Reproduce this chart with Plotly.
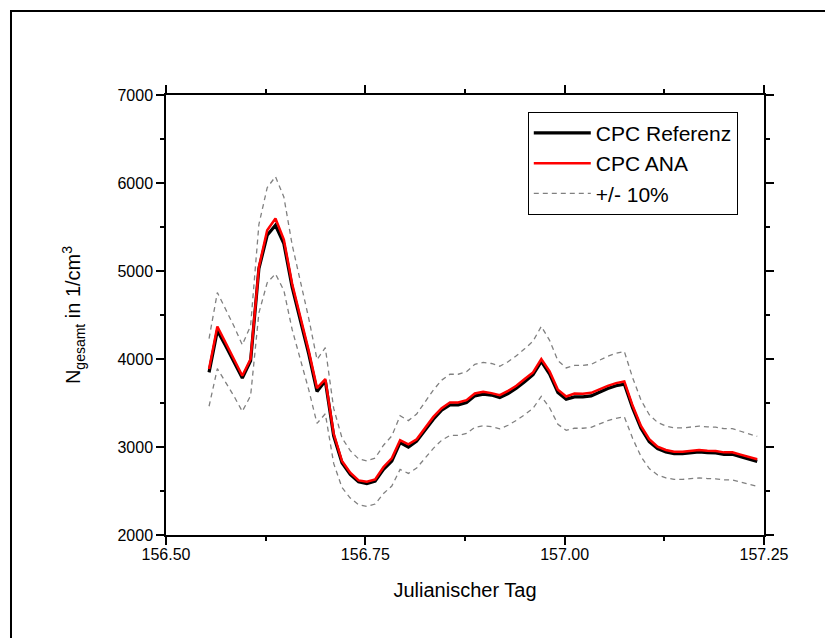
import plotly.graph_objects as go

# Julian day (15-minute steps)
julian_day = [
    156.5540, 156.5644, 156.5748, 156.5853, 156.5957, 156.6061, 156.6165, 156.6269,
    156.6373, 156.6478, 156.6582, 156.6686, 156.6790, 156.6894, 156.6998, 156.7103,
    156.7207, 156.7311, 156.7415, 156.7519, 156.7623, 156.7728, 156.7832, 156.7936,
    156.8040, 156.8144, 156.8248, 156.8353, 156.8457, 156.8561, 156.8665, 156.8769,
    156.8873, 156.8978, 156.9082, 156.9186, 156.9290, 156.9394, 156.9498, 156.9603,
    156.9707, 156.9811, 156.9915, 157.0019, 157.0123, 157.0228, 157.0332, 157.0436,
    157.0540, 157.0644, 157.0748, 157.0853, 157.0957, 157.1061, 157.1165, 157.1269,
    157.1373, 157.1478, 157.1582, 157.1686, 157.1790, 157.1894, 157.1998, 157.2103,
    157.2207, 157.2311, 157.2415,
]

cpc_referenz = [
    3848, 4323, 4150, 3975, 3783, 3980, 5026, 5406, 5520, 5311,
    4817, 4437, 4057, 3631, 3753, 3126, 2822, 2689, 2605, 2583,
    2613, 2746, 2841, 3050, 3000, 3068, 3190, 3316, 3418, 3479,
    3479, 3505, 3581, 3601, 3590, 3562, 3608, 3669, 3741, 3821,
    3973, 3829, 3620, 3544, 3570, 3570, 3581, 3627, 3665, 3696,
    3715, 3441, 3213, 3061, 2981, 2943, 2924, 2924, 2932, 2943,
    2935, 2932, 2917, 2917, 2890, 2860, 2837,
]

cpc_ana = [
    3886, 4369, 4185, 4005, 3810, 4000, 5045, 5463, 5596, 5357,
    4855, 4475, 4095, 3669, 3772, 3153, 2841, 2708, 2620, 2605,
    2632, 2773, 2871, 3077, 3030, 3087, 3213, 3342, 3441, 3505,
    3505, 3532, 3608, 3627, 3612, 3589, 3638, 3695, 3772, 3848,
    4000, 3859, 3650, 3574, 3608, 3605, 3616, 3657, 3695, 3726,
    3745, 3468, 3240, 3088, 3004, 2966, 2947, 2947, 2955, 2966,
    2958, 2955, 2939, 2939, 2913, 2882, 2860,
]

# +/- 10% band around the reference
band_upper = [v * 1.1 for v in cpc_referenz]
band_lower = [v * 0.9 for v in cpc_referenz]

x_tickvals = [156.50, 156.75, 157.00, 157.25]
x_ticktext = ["156.50", "156.75", "157.00", "157.25"]
y_tickvals = [2000, 3000, 4000, 5000, 6000, 7000]
y_ticktext = ["2000", "3000", "4000", "5000", "6000", "7000"]

FONT = "Liberation Sans, Arial, sans-serif"

fig = go.Figure()
fig.add_trace(go.Scatter(x=julian_day, y=cpc_referenz, mode="lines", name="CPC Referenz",
                         line=dict(color="black", width=3.2)))
fig.add_trace(go.Scatter(x=julian_day, y=cpc_ana, mode="lines", name="CPC ANA",
                         line=dict(color="#ff0000", width=2.5)))
fig.add_trace(go.Scatter(x=julian_day, y=band_upper, mode="lines", name="+/- 10%",
                         legendgroup="band",
                         line=dict(color="#808080", width=1.3, dash="5px,4px")))
fig.add_trace(go.Scatter(x=julian_day, y=band_lower, mode="lines", name="+/- 10%",
                         legendgroup="band", showlegend=False,
                         line=dict(color="#808080", width=1.3, dash="5px,4px")))

axis_common = dict(
    showline=True, linecolor="black", linewidth=1.5, mirror="allticks",
    ticks="outside", ticklen=8, tickwidth=1.5, tickcolor="black",
    showgrid=False, zeroline=False, automargin=False,
    tickfont=dict(family=FONT, size=16, color="black"),
)

fig.update_xaxes(
    range=[156.5, 157.25], tickvals=x_tickvals, ticktext=x_ticktext,
    minor=dict(ticks="outside", ticklen=4, tickwidth=1.5, tickcolor="black", dtick=0.125, tick0=156.5),
    ticklabelstandoff=-4,
    title=dict(text="Julianischer Tag", font=dict(family=FONT, size=20, color="black"), standoff=21),
    **axis_common,
)
fig.update_yaxes(
    range=[2000, 7000], tickvals=y_tickvals, ticktext=y_ticktext,
    minor=dict(ticks="outside", ticklen=4, tickwidth=1.5, tickcolor="black", dtick=500, tick0=2000),
    title=dict(text="N<sub>gesamt</sub> in 1/cm<sup>3</sup>",
               font=dict(family=FONT, size=20, color="black"), standoff=31),
    **axis_common,
)

fig.add_shape(type="rect", xref="paper", yref="paper",
              x0=-0.2592, x1=1.2, y0=-0.4, y1=1.191,
              line=dict(color="black", width=2), layer="above")

fig.update_layout(
    width=825, height=630,
    margin=dict(l=158, r=69, t=87, b=103),
    paper_bgcolor="white", plot_bgcolor="white",
    font=dict(family=FONT, color="black"),
    showlegend=True,
    legend=dict(
        x=0.605, y=0.962, xanchor="left", yanchor="top",
        bordercolor="black", borderwidth=1, bgcolor="white",
        font=dict(family=FONT, size=21, color="black"),
        itemwidth=57, tracegroupgap=0,
    ),
)

fig.write_html("out.html")
